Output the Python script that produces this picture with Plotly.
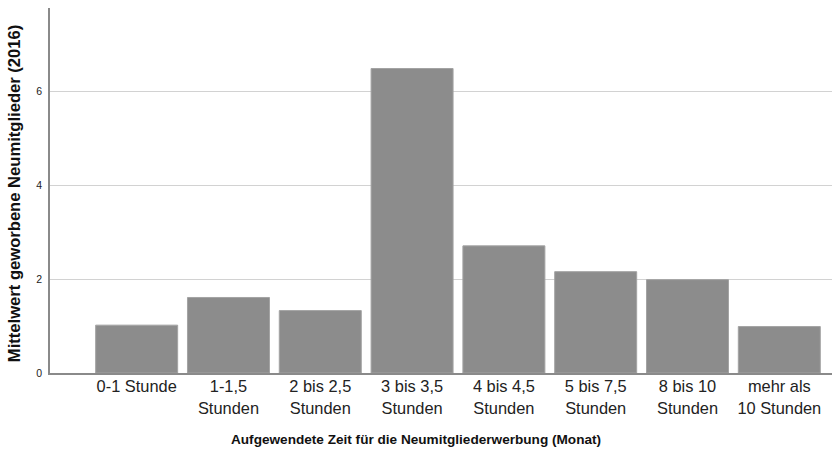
import plotly.graph_objects as go

# Mean number of new members recruited, by monthly time spent on recruiting
categories = [
    "0-1 Stunde",
    "1-1,5<br>Stunden",
    "2 bis 2,5<br>Stunden",
    "3 bis 3,5<br>Stunden",
    "4 bis 4,5<br>Stunden",
    "5 bis 7,5<br>Stunden",
    "8 bis 10<br>Stunden",
    "mehr als<br>10 Stunden",
]
mean_values = [1.02, 1.61, 1.33, 6.49, 2.71, 2.16, 1.99, 0.99]
y_ticks = [0, 2, 4, 6]

x_title = "Aufgewendete Zeit für die Neumitgliederwerbung (Monat)"
y_title = "Mittelwert geworbene Neumitglieder (2016)"

font_family = "Arial, Liberation Sans, sans-serif"

fig = go.Figure(
    go.Bar(
        x=list(range(len(categories))),
        y=mean_values,
        marker=dict(color="#8c8c8c", line=dict(color="#a3a3a3", width=1)),
        hoverinfo="skip",
    )
)

fig.update_layout(
    width=832,
    height=451,
    margin=dict(l=50, r=0, t=8, b=78),
    paper_bgcolor="white",
    plot_bgcolor="white",
    bargap=0.107,
    showlegend=False,
    font=dict(family=font_family, color="#222222"),
)

fig.update_xaxes(
    tickmode="array",
    tickvals=list(range(len(categories))),
    ticktext=categories,
    range=[-0.944, 7.574],
    showgrid=False,
    showline=True,
    linecolor="#8a8a8a",
    linewidth=1.5,
    ticks="",
    ticklabelstandoff=-2,
    tickfont=dict(size=16.4, color="#222222"),
)

fig.update_yaxes(
    tickmode="array",
    tickvals=y_ticks,
    range=[0, 7.78],
    showgrid=True,
    gridcolor="#d2d2d2",
    gridwidth=1.2,
    zeroline=False,
    showline=True,
    linecolor="#8a8a8a",
    linewidth=1.5,
    ticks="",
    ticklabelstandoff=4,
    tickfont=dict(size=10.5, color="#222222"),
)

# Axis titles
fig.add_annotation(
    text=f"<b>{x_title}</b>",
    xref="paper", yref="paper",
    x=0.468, y=-0.181,
    xanchor="center", yanchor="middle",
    showarrow=False,
    font=dict(size=13.6, color="#111111"),
)
fig.add_annotation(
    text=f"<b>{y_title}</b>",
    xref="paper", yref="paper",
    x=-0.046, y=0.49,
    xanchor="center", yanchor="middle",
    textangle=-90,
    showarrow=False,
    font=dict(size=16.6, color="#111111"),
)

fig.write_html("out.html")
